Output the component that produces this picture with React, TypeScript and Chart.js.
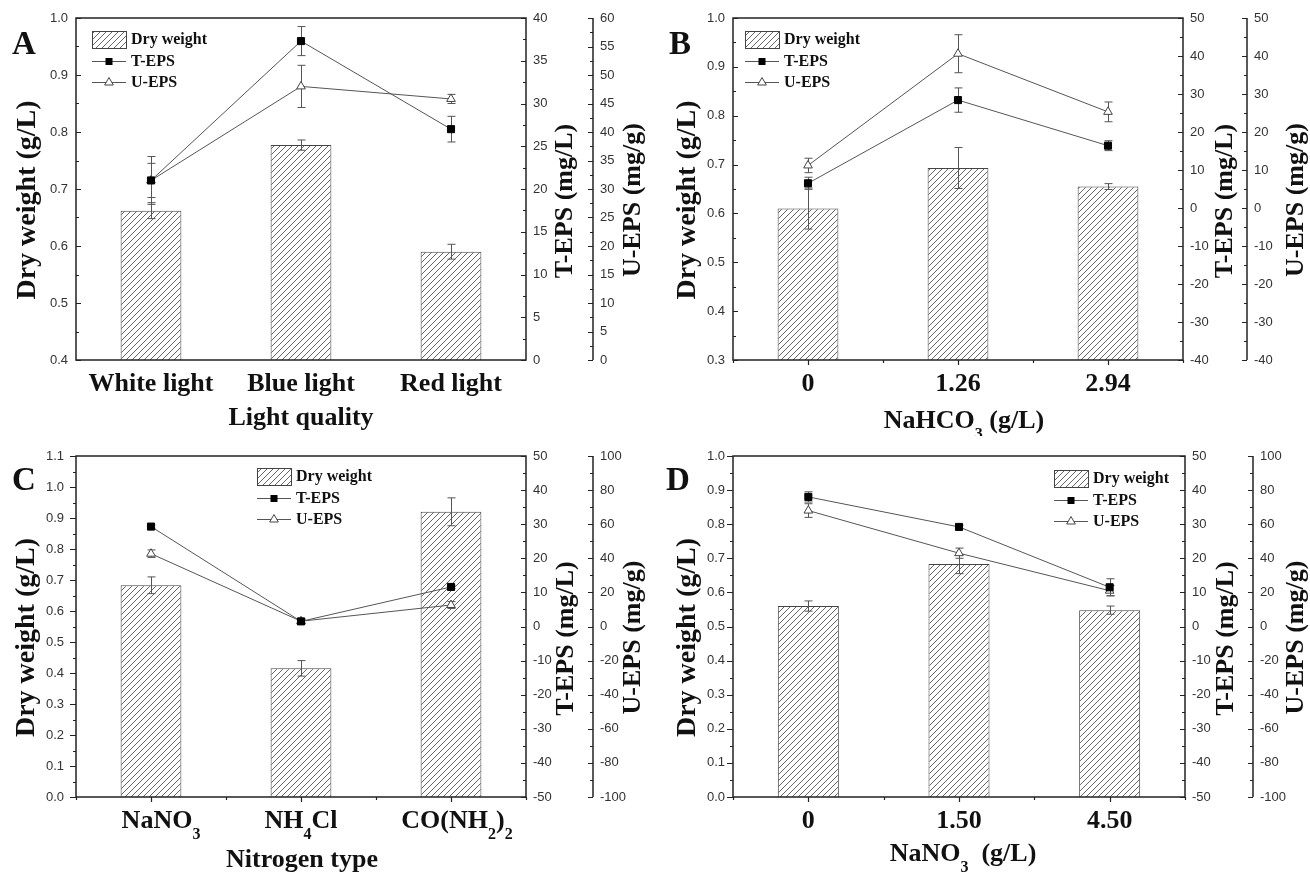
import React, { useEffect, useRef } from 'react';
import { Chart, registerables } from 'chart.js';

Chart.register(...registerables);

const SERIF = '"Liberation Serif", "Times New Roman", serif';
const SANS = '"Liberation Sans", Arial, sans-serif';

const seriesNames = ['Dry weight', 'T-EPS', 'U-EPS'];
const tTitle = 'T-EPS (mg/L)';
const uTitle = 'U-EPS (mg/g)';
const yTitle = 'Dry weight (g/L)';

// ---------- Panel A: light quality ----------
const catsA = ['White light', 'Blue light', 'Red light'];
const dryA = [0.662, 0.777, 0.59];
const dryErrA = [0.014, 0.009, 0.013];
const tepsA = [21.0, 37.3, 27.0];
const tepsErrA = [2.8, 1.7, 1.5];
const uepsA = [31.5, 48.0, 45.8];
const uepsErrA = [3.0, 3.7, 0.8];
const dryAxisA = [0.4, 1.0, 0.1];
const tAxisA = [0, 40, 5];
const uAxisA = [0, 60, 5];

// ---------- Panel B: NaHCO3 ----------
const catsB = ['0', '1.26', '2.94'];
const dryB = [0.61, 0.693, 0.655];
const dryErrB = [0.042, 0.042, 0.006];
const tepsB = [6.5, 28.4, 16.4];
const tepsErrB = [1.6, 3.2, 1.3];
const uepsB = [11.2, 40.6, 25.3];
const uepsErrB = [1.9, 5.0, 2.6];
const dryAxisB = [0.3, 1.0, 0.1];
const tAxisB = [-40, 50, 10];
const uAxisB = [-40, 50, 10];

// ---------- Panel C: nitrogen type ----------
const catsC = ['NaNO_3', 'NH_4Cl', 'CO(NH_2)_2'];
const dryC = [0.683, 0.415, 0.92];
const dryErrC = [0.027, 0.025, 0.045];
const tepsC = [29.3, 1.5, 11.6];
const tepsErrC = [0.5, 0.5, 0.5];
const uepsC = [42.7, 3.1, 12.6];
const uepsErrC = [2.2, 1.5, 2.0];
const dryAxisC = [0.0, 1.1, 0.1];
const tAxisC = [-50, 50, 10];
const uAxisC = [-100, 100, 20];

// ---------- Panel D: NaNO3 ----------
const catsD = ['0', '1.50', '4.50'];
const dryD = [0.56, 0.683, 0.548];
const dryErrD = [0.015, 0.028, 0.012];
const tepsD = [38.0, 29.2, 11.5];
const tepsErrD = [1.5, 0.5, 2.5];
const uepsD = [68.0, 43.0, 21.0];
const uepsErrD = [4.0, 3.0, 3.0];
const dryAxisD = [0.0, 1.0, 0.1];
const tAxisD = [-50, 50, 10];
const uAxisD = [-100, 100, 20];

interface PanelCfg {
  letter: string;
  x: number; y: number; w: number; h: number;
  l: number; t: number; r: number; b: number; uX: number;
  cats: string[]; catDx: number[];
  dry: number[]; dryErr: number[];
  teps: number[]; tepsErr: number[];
  ueps: number[]; uepsErr: number[];
  dryAxis: number[]; tAxis: number[]; uAxis: number[];
  xTitle: string; xTitleDx: number; xTitleDy: number;
  leftOut: boolean; leftPad: number; bottomTicks: boolean;
  legend: [number, number];
  letterX: number;
  yTitleX: number; tTitleX: number; uTitleX: number;
}

const panels: PanelCfg[] = [
  {
    letter: 'A', x: 0, y: 0, w: 655, h: 436,
    l: 76, t: 18, r: 526, b: 360, uX: 593,
    cats: catsA, catDx: [0, 0, 0],
    dry: dryA, dryErr: dryErrA, teps: tepsA, tepsErr: tepsErrA, ueps: uepsA, uepsErr: uepsErrA,
    dryAxis: dryAxisA, tAxis: tAxisA, uAxis: uAxisA,
    xTitle: 'Light quality', xTitleDx: 0, xTitleDy: 65,
    leftOut: false, leftPad: 8, bottomTicks: false,
    legend: [92, 31], letterX: 24,
    yTitleX: 35, tTitleX: 572, uTitleX: 640,
  },
  {
    letter: 'B', x: 655, y: 0, w: 655, h: 436,
    l: 78, t: 18, r: 528, b: 360, uX: 592,
    cats: catsB, catDx: [0, 0, 0],
    dry: dryB, dryErr: dryErrB, teps: tepsB, tepsErr: tepsErrB, ueps: uepsB, uepsErr: uepsErrB,
    dryAxis: dryAxisB, tAxis: tAxisB, uAxis: uAxisB,
    xTitle: 'NaHCO_3 (g/L)', xTitleDx: 6, xTitleDy: 68,
    leftOut: false, leftPad: 8, bottomTicks: true,
    legend: [90, 31], letterX: 25,
    yTitleX: 40, tTitleX: 577, uTitleX: 648,
  },
  {
    letter: 'C', x: 0, y: 436, w: 655, h: 436,
    l: 76, t: 20, r: 526, b: 361, uX: 593,
    cats: catsC, catDx: [10, 0, 6],
    dry: dryC, dryErr: dryErrC, teps: tepsC, tepsErr: tepsErrC, ueps: uepsC, uepsErr: uepsErrC,
    dryAxis: dryAxisC, tAxis: tAxisC, uAxis: uAxisC,
    xTitle: 'Nitrogen type', xTitleDx: 1, xTitleDy: 70,
    leftOut: true, leftPad: 12, bottomTicks: true,
    legend: [257, 32], letterX: 24,
    yTitleX: 34, tTitleX: 573, uTitleX: 640,
  },
  {
    letter: 'D', x: 655, y: 436, w: 655, h: 436,
    l: 78, t: 20, r: 530, b: 361, uX: 598,
    cats: catsD, catDx: [0, 0, 0],
    dry: dryD, dryErr: dryErrD, teps: tepsD, tepsErr: tepsErrD, ueps: uepsD, uepsErr: uepsErrD,
    dryAxis: dryAxisD, tAxis: tAxisD, uAxis: uAxisD,
    xTitle: 'NaNO_3  (g/L)', xTitleDx: 4, xTitleDy: 64,
    leftOut: true, leftPad: 8, bottomTicks: true,
    legend: [399, 34], letterX: 23,
    yTitleX: 40, tTitleX: 578, uTitleX: 648,
  },
];

function tickValues(axis: number[]) {
  const [min, max, step] = axis;
  const out: number[] = [];
  const n = Math.round((max - min) / step);
  for (let i = 0; i <= n; i++) out.push(Math.round((min + i * step) * 1e6) / 1e6);
  return out;
}

function decimals(step: number) {
  return step < 1 ? 1 : 0;
}

function richParts(s: string) {
  const parts: { t: string; sub: boolean }[] = [];
  const re = /_(\d)/g;
  let last = 0;
  let m: RegExpExecArray | null;
  while ((m = re.exec(s))) {
    if (m.index > last) parts.push({ t: s.slice(last, m.index), sub: false });
    parts.push({ t: m[1], sub: true });
    last = m.index + m[0].length;
  }
  if (last < s.length) parts.push({ t: s.slice(last), sub: false });
  return parts;
}

function drawRich(ctx: CanvasRenderingContext2D, s: string, cx: number, by: number, size: number) {
  const parts = richParts(s);
  const mainF = `bold ${size}px ${SERIF}`;
  const subF = `bold ${Math.round(size * 0.62)}px ${SERIF}`;
  let total = 0;
  const widths = parts.map((p) => {
    ctx.font = p.sub ? subF : mainF;
    const w = ctx.measureText(p.t).width;
    total += w;
    return w;
  });
  let x = cx - total / 2;
  ctx.textAlign = 'left';
  ctx.textBaseline = 'alphabetic';
  parts.forEach((p, i) => {
    ctx.font = p.sub ? subF : mainF;
    ctx.fillText(p.t, x, p.sub ? by + size * 0.42 : by);
    x += widths[i];
  });
}

function drawRotated(ctx: CanvasRenderingContext2D, text: string, x: number, cy: number, size: number) {
  ctx.save();
  ctx.translate(x, cy);
  ctx.rotate(-Math.PI / 2);
  ctx.font = `bold ${size}px ${SERIF}`;
  ctx.textAlign = 'center';
  ctx.textBaseline = 'alphabetic';
  ctx.fillStyle = '#111';
  ctx.fillText(text, 0, 0);
  ctx.restore();
}

function makeHatch(ctx: CanvasRenderingContext2D) {
  const c = document.createElement('canvas');
  c.width = 6;
  c.height = 6;
  const g = c.getContext('2d')!;
  g.fillStyle = '#fff';
  g.fillRect(0, 0, 6, 6);
  g.strokeStyle = '#555';
  g.lineWidth = 0.9;
  g.beginPath();
  g.moveTo(0, 6); g.lineTo(6, 0);
  g.moveTo(-1, 1); g.lineTo(1, -1);
  g.moveTo(5, 7); g.lineTo(7, 5);
  g.stroke();
  return ctx.createPattern(c, 'repeat')!;
}

function drawErrors(chart: any, index: number) {
  const ds = chart.data.datasets[index];
  if (!ds.errors) return;
  const meta = chart.getDatasetMeta(index);
  const scale = chart.scales[meta.yAxisID];
  const ctx: CanvasRenderingContext2D = chart.ctx;
  ctx.save();
  ctx.strokeStyle = '#555';
  ctx.lineWidth = 1;
  ds.errors.forEach((e: number, j: number) => {
    const el = meta.data[j];
    if (!el) return;
    const v = ds.data[j];
    const x = Math.round(el.x) + 0.5;
    const y1 = scale.getPixelForValue(v + e);
    const y2 = scale.getPixelForValue(v - e);
    ctx.beginPath();
    ctx.moveTo(x, y1); ctx.lineTo(x, y2);
    ctx.moveTo(x - 4, y1); ctx.lineTo(x + 4, y1);
    ctx.moveTo(x - 4, y2); ctx.lineTo(x + 4, y2);
    ctx.stroke();
  });
  ctx.restore();
}

function drawSquare(ctx: CanvasRenderingContext2D, x: number, y: number) {
  ctx.fillStyle = '#000';
  ctx.fillRect(x - 3.5, y - 3.5, 7, 7);
}

function drawTriangle(ctx: CanvasRenderingContext2D, x: number, y: number) {
  const r = 5;
  ctx.beginPath();
  ctx.moveTo(x, y - r);
  ctx.lineTo(x + r * 0.866, y + r * 0.5);
  ctx.lineTo(x - r * 0.866, y + r * 0.5);
  ctx.closePath();
  ctx.fillStyle = '#fff';
  ctx.fill();
  ctx.strokeStyle = '#444';
  ctx.lineWidth = 1;
  ctx.stroke();
}

function makePlugin(p: PanelCfg, hatch: CanvasPattern) {
  return {
    id: 'decor' + p.letter,
    beforeDatasetDraw(chart: any, args: any) {
      const ds = chart.data.datasets[args.index];
      if (ds.type === 'line') drawErrors(chart, args.index);
    },
    afterDatasetDraw(chart: any, args: any) {
      const ds = chart.data.datasets[args.index];
      if (ds.type !== 'line') drawErrors(chart, args.index);
    },
    afterDraw(chart: any) {
      const ctx: CanvasRenderingContext2D = chart.ctx;
      const { left, right, top, bottom } = chart.chartArea;
      const yS = chart.scales.y;
      const tS = chart.scales.yT;
      const uS = chart.scales.yU;
      const xS = chart.scales.x;
      ctx.save();
      // frame
      ctx.strokeStyle = '#222';
      ctx.lineWidth = 1.5;
      ctx.strokeRect(left, top, right - left, bottom - top);
      // U axis line
      const ux = uS.left;
      ctx.beginPath();
      ctx.moveTo(ux, top); ctx.lineTo(ux, bottom);
      ctx.stroke();
      // ticks
      ctx.lineWidth = 1.2;
      const drawTicks = (axis: number[], scale: any, x0: number, dir: number, major: number) => {
        const [min, max, step] = axis;
        const n = Math.round((max - min) / (step / 2));
        ctx.beginPath();
        for (let i = 0; i <= n; i++) {
          const v = min + (i * step) / 2;
          const y = Math.round(scale.getPixelForValue(v)) + 0.5;
          const len = i % 2 === 0 ? major : 3;
          ctx.moveTo(x0, y);
          ctx.lineTo(x0 + dir * len, y);
        }
        ctx.stroke();
      };
      drawTicks(p.dryAxis, yS, left, p.leftOut ? -1 : 1, p.leftOut ? 6 : 5);
      drawTicks(p.tAxis, tS, right, -1, 5);
      drawTicks(p.uAxis, uS, ux, -1, 5);
      if (p.bottomTicks) {
        ctx.beginPath();
        const n = p.cats.length;
        const centers = p.cats.map((_, i) => xS.getPixelForValue(i));
        centers.forEach((cx: number) => {
          const x = Math.round(cx) + 0.5;
          ctx.moveTo(x, bottom); ctx.lineTo(x, bottom + 5);
        });
        const bounds = [left];
        for (let i = 1; i < n; i++) bounds.push((centers[i - 1] + centers[i]) / 2);
        bounds.push(right);
        bounds.forEach((bx) => {
          const x = Math.round(bx) + 0.5;
          ctx.moveTo(x, bottom); ctx.lineTo(x, bottom + 3);
        });
        ctx.stroke();
      }
      // category labels
      ctx.fillStyle = '#111';
      p.cats.forEach((c, i) => {
        drawRich(ctx, c, xS.getPixelForValue(i) + p.catDx[i], bottom + 31, 26);
      });
      // x title
      drawRich(ctx, p.xTitle, (left + right) / 2 + p.xTitleDx, bottom + p.xTitleDy, 26);
      // y titles
      const cy = (top + bottom) / 2 + 11;
      drawRotated(ctx, yTitle, p.yTitleX, cy, 28);
      drawRotated(ctx, tTitle, p.tTitleX, cy + 1, 26);
      drawRotated(ctx, uTitle, p.uTitleX, cy, 26);
      // letter
      ctx.font = `bold 33px ${SERIF}`;
      ctx.textAlign = 'center';
      ctx.textBaseline = 'alphabetic';
      ctx.fillStyle = '#111';
      ctx.fillText(p.letter, p.letterX, 54);
      // legend
      const [lx, ly] = p.legend;
      ctx.fillStyle = hatch;
      ctx.fillRect(lx, ly, 34, 17);
      ctx.strokeStyle = '#444';
      ctx.lineWidth = 1;
      ctx.strokeRect(lx + 0.5, ly + 0.5, 34, 17);
      ctx.font = `bold 16px ${SERIF}`;
      ctx.textAlign = 'left';
      ctx.textBaseline = 'middle';
      ctx.fillStyle = '#111';
      ctx.fillText(seriesNames[0], lx + 39, ly + 9);
      const rows = [ly + 30, ly + 51];
      rows.forEach((ry, k) => {
        ctx.strokeStyle = '#555';
        ctx.lineWidth = 1;
        ctx.beginPath();
        ctx.moveTo(lx, ry + 0.5); ctx.lineTo(lx + 34, ry + 0.5);
        ctx.stroke();
        if (k === 0) drawSquare(ctx, lx + 17, ry + 0.5);
        else drawTriangle(ctx, lx + 17, ry + 0.5);
        ctx.fillStyle = '#111';
        ctx.font = `bold 16px ${SERIF}`;
        ctx.textBaseline = 'middle';
        ctx.fillText(seriesNames[k + 1], lx + 39, ry + 1);
      });
      ctx.restore();
    },
  };
}

function yScale(axis: number[], position: string, weight: number, width: number, padding: number) {
  const ticks = tickValues(axis);
  const dec = decimals(axis[2]);
  return {
    type: 'linear',
    position,
    weight,
    min: axis[0],
    max: axis[1],
    grid: { display: false, drawTicks: false, tickLength: 0 },
    border: { display: false },
    ticks: {
      font: { family: SANS, size: 13 },
      color: '#333',
      padding,
      autoSkip: false,
      maxRotation: 0,
      callback: (v: any) => Number(v).toFixed(dec),
    },
    afterBuildTicks: (s: any) => {
      s.ticks = ticks.map((v) => ({ value: v }));
    },
    afterFit: (s: any) => {
      s.width = width;
    },
  };
}

function buildConfig(p: PanelCfg, hatch: CanvasPattern): any {
  return {
    type: 'bar',
    data: {
      labels: p.cats.map((c) => c.replace(/_/g, '')),
      datasets: [
        {
          type: 'bar', label: seriesNames[0], data: p.dry, errors: p.dryErr, yAxisID: 'y',
          backgroundColor: hatch, borderColor: '#444', borderWidth: 1,
          barPercentage: 0.405, categoryPercentage: 1, order: 3,
        },
        {
          type: 'line', label: seriesNames[1], data: p.teps, errors: p.tepsErr, yAxisID: 'yT',
          borderColor: '#555', borderWidth: 1, fill: false, tension: 0,
          pointStyle: 'rect', pointRadius: 5, pointBackgroundColor: '#000', pointBorderColor: '#000',
          pointBorderWidth: 1, order: 1,
        },
        {
          type: 'line', label: seriesNames[2], data: p.ueps, errors: p.uepsErr, yAxisID: 'yU',
          borderColor: '#555', borderWidth: 1, fill: false, tension: 0,
          pointStyle: 'triangle', pointRadius: 5, pointBackgroundColor: '#fff', pointBorderColor: '#444',
          pointBorderWidth: 1, order: 2,
        },
      ],
    },
    options: {
      responsive: false,
      animation: false,
      devicePixelRatio: 1,
      layout: { padding: { left: 0, right: 0, top: p.t, bottom: p.h - p.b } },
      plugins: { legend: { display: false }, tooltip: { enabled: false } },
      events: [],
      scales: {
        x: { type: 'category', display: false, offset: true, grid: { display: false } },
        y: yScale(p.dryAxis, 'left', 0, p.l, p.leftPad),
        yT: yScale(p.tAxis, 'right', 0, p.uX - p.r, 7),
        yU: yScale(p.uAxis, 'right', 1, p.w - p.uX, 7),
      },
    },
    plugins: [makePlugin(p, hatch)],
  };
}

function Panel({ cfg }: { cfg: PanelCfg }) {
  const ref = useRef<HTMLCanvasElement>(null);
  useEffect(() => {
    const canvas = ref.current!;
    const ctx = canvas.getContext('2d')!;
    const hatch = makeHatch(ctx);
    const chart = new Chart(canvas, buildConfig(cfg, hatch));
    return () => chart.destroy();
  }, [cfg]);
  return (
    <canvas
      ref={ref}
      width={cfg.w}
      height={cfg.h}
      style={{ position: 'absolute', left: cfg.x, top: cfg.y, width: cfg.w, height: cfg.h }}
    />
  );
}

export default function App() {
  return (
    <div style={{ position: 'absolute', left: 0, top: 0, width: 1310, height: 872, background: '#fff', overflow: 'hidden' }}>
      {panels.map((p) => (
        <Panel key={p.letter} cfg={p} />
      ))}
    </div>
  );
}
